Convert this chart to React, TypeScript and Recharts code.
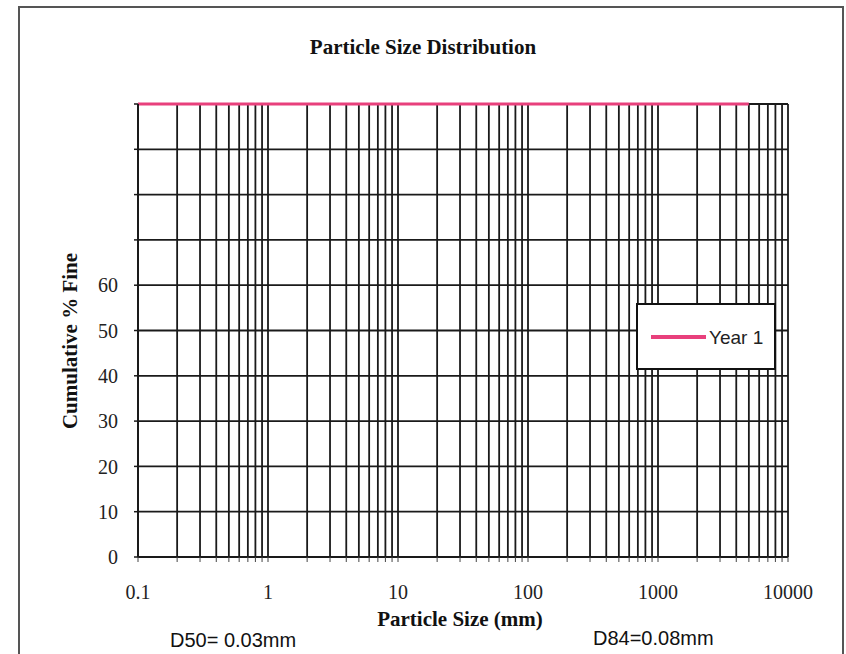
import React from 'react';
import { LineChart, Line, XAxis, YAxis, CartesianGrid, Legend, Customized } from 'recharts';

// ---- data ----
const particleSizesMm = [0.1, 0.2, 0.5, 1, 2, 5, 10, 20, 50, 100, 200, 500, 1000, 2000, 5000];
const year1CumulativeFine = [100, 100, 100, 100, 100, 100, 100, 100, 100, 100, 100, 100, 100, 100, 100];
const seriesName = 'Year 1';

const xGridTicks = [
  0.1, 0.2, 0.3, 0.4, 0.5, 0.6, 0.7, 0.8, 0.9,
  1, 2, 3, 4, 5, 6, 7, 8, 9,
  10, 20, 30, 40, 50, 60, 70, 80, 90,
  100, 200, 300, 400, 500, 600, 700, 800, 900,
  1000, 2000, 3000, 4000, 5000, 6000, 7000, 8000, 9000,
  10000,
];
const xLabelTicks = [0.1, 1, 10, 100, 1000, 10000];
const yTicks = [0, 10, 20, 30, 40, 50, 60, 70, 80, 90, 100];
const yLabelTicks = [0, 10, 20, 30, 40, 50, 60];

const chartTitle = 'Particle Size Distribution';
const xTitle = 'Particle Size (mm)';
const yTitle = 'Cumulative % Fine';
const noteD50 = 'D50= 0.03mm';
const noteD84 = 'D84=0.08mm';

const data = particleSizesMm.map((s, i) => ({ size: s, fine: year1CumulativeFine[i] }));

const SERIF = '"Liberation Serif", "Times New Roman", serif';
const SANS = '"Liberation Sans", Arial, sans-serif';
const PINK = '#e8407c';
const GRID = '#1a1a1a';

const isLabelX = (v: number) => xLabelTicks.some((t) => Math.abs(t - v) < t * 1e-6);

const Texts = () => (
  <g>
    <text x={423} y={54} textAnchor="middle" fontFamily={SERIF} fontWeight="bold" fontSize={21} fill="#111">
      {chartTitle}
    </text>
    <text
      x={77}
      y={341}
      textAnchor="middle"
      transform="rotate(-90 77 341)"
      fontFamily={SERIF}
      fontWeight="bold"
      fontSize={21}
      fill="#111"
    >
      {yTitle}
    </text>
    <text x={460} y={626} textAnchor="middle" fontFamily={SERIF} fontWeight="bold" fontSize={21} fill="#111">
      {xTitle}
    </text>
    <text x={170} y={647} fontFamily={SANS} fontSize={20} fill="#111">
      {noteD50}
    </text>
    <text x={593} y={645} fontFamily={SANS} fontSize={20} fill="#111">
      {noteD84}
    </text>
  </g>
);

const LegendBox = () => (
  <svg width={140} height={67} style={{ display: 'block' }}>
    <rect x={1} y={1} width={138} height={65} fill="#fff" stroke="#111" strokeWidth={2} />
    <line x1={15} y1={34} x2={70} y2={34} stroke={PINK} strokeWidth={4} />
    <text x={73} y={41} fontFamily={SANS} fontSize={19} fill="#222">
      {seriesName}
    </text>
  </svg>
);

export default function App() {
  return (
    <div style={{ position: 'absolute', left: 0, top: 0, width: 846, height: 654, background: '#fff' }}>
      <div
        style={{
          position: 'absolute',
          left: 18,
          top: 6,
          width: 826,
          height: 700,
          border: '2px solid #555',
          boxSizing: 'border-box',
          pointerEvents: 'none',
        }}
      />
      <LineChart
        width={846}
        height={654}
        data={data}
        margin={{ top: 104, right: 58, bottom: 37, left: 98 }}
        style={{ position: 'absolute', left: 0, top: 0 }}
      >
        <CartesianGrid stroke={GRID} strokeWidth={1.8} />
        <XAxis
          dataKey="size"
          type="number"
          scale="log"
          domain={[0.1, 10000]}
          allowDataOverflow
          ticks={xGridTicks}
          interval={0}
          height={60}
          tickSize={5}
          tickMargin={23}
          tickFormatter={(v: number) => (isLabelX(v) ? String(v) : '')}
          tick={{ fontFamily: SERIF, fontSize: 20, fill: '#222' }}
          axisLine={{ stroke: GRID, strokeWidth: 2 }}
          tickLine={{ stroke: '#444', strokeWidth: 1 }}
        />
        <YAxis
          type="number"
          domain={[0, 100]}
          ticks={yTicks}
          interval={0}
          width={40}
          tickSize={4}
          tickMargin={16}
          tickFormatter={(v: number) => (yLabelTicks.includes(v) ? String(v) : '')}
          tick={{ fontFamily: SERIF, fontSize: 20, fill: '#222' }}
          axisLine={{ stroke: GRID, strokeWidth: 2 }}
          tickLine={{ stroke: GRID, strokeWidth: 1.5 }}
        />
        <Line
          dataKey="fine"
          name={seriesName}
          stroke={PINK}
          strokeWidth={3}
          dot={false}
          isAnimationActive={false}
        />
        <Legend
          layout="horizontal"
          verticalAlign="middle"
          align="center"
          wrapperStyle={{ position: 'absolute', left: 636, top: 303, width: 140, height: 67 }}
          content={() => <LegendBox />}
        />
        <Customized component={Texts} />
      </LineChart>
    </div>
  );
}
